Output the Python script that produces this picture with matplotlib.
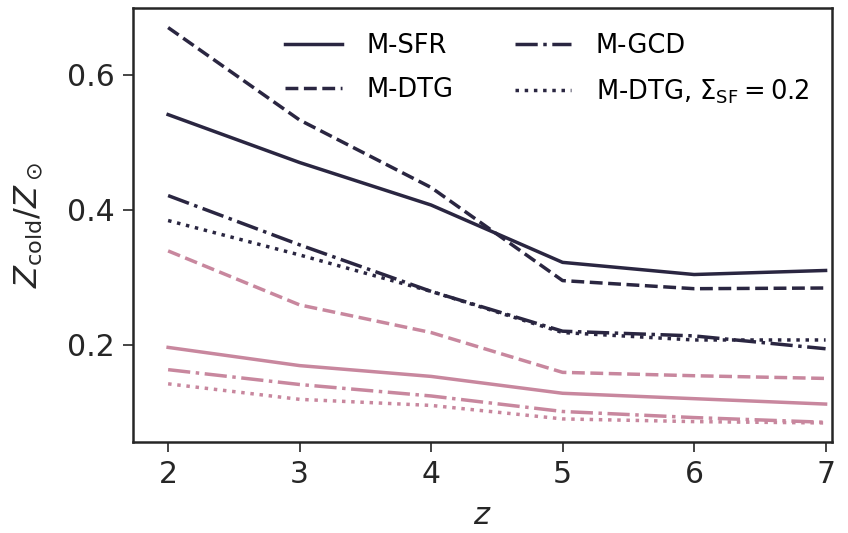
import numpy as np
import matplotlib
matplotlib.use('Agg')
import matplotlib.pyplot as plt

# redshift grid
z = [2, 3, 4, 5, 6, 7]

# dark series
dark_sfr = [0.541, 0.470, 0.407, 0.322, 0.304, 0.310]
dark_dtg = [0.670, 0.533, 0.433, 0.295, 0.283, 0.284]
dark_gcd = [0.421, 0.348, 0.279, 0.220, 0.213, 0.194]
dark_dtg_sf = [0.384, 0.333, 0.279, 0.218, 0.207, 0.207]

# pink series
pink_sfr = [0.196, 0.169, 0.153, 0.128, 0.120, 0.112]
pink_dtg = [0.339, 0.259, 0.218, 0.159, 0.154, 0.150]
pink_gcd = [0.163, 0.141, 0.124, 0.101, 0.092, 0.085]
pink_dtg_sf = [0.142, 0.119, 0.110, 0.090, 0.086, 0.084]

labels = ['M-SFR', 'M-DTG', 'M-GCD', r'M-DTG, $\Sigma_{\rm SF} = 0.2$']
styles = ['-', '--', '-.', ':']

dark = '#2a2641'
pink = '#c8879e'
txt = '#262626'

fig = plt.figure(figsize=(8.48, 5.33), dpi=100)
ax = fig.add_axes([0.157, 0.171, 0.824, 0.814])

for ys, ls, lab in zip([dark_sfr, dark_dtg, dark_gcd, dark_dtg_sf], styles, labels):
    ax.plot(z, ys, ls=ls, color=dark, lw=2.5, label=lab)
for ys, ls in zip([pink_sfr, pink_dtg, pink_gcd, pink_dtg_sf], styles):
    ax.plot(z, ys, ls=ls, color=pink, lw=2.5)

ax.set_xlim(1.734, 7.048)
ax.set_ylim(0.056, 0.699)
ax.set_xticks(z)
ax.set_yticks([0.2, 0.4, 0.6])
ax.tick_params(labelsize=21.5, length=7, width=1.2, colors=txt, pad=6)
for s in ax.spines.values():
    s.set_linewidth(1.8)
    s.set_color(txt)

ax.set_xlabel(r'$z$', fontsize=22, color=txt, labelpad=9)
ax.set_ylabel(r'$Z_{\rm cold}/Z_\odot$', fontsize=23, color=txt, labelpad=16)

ax.legend(ncol=2, frameon=False, fontsize=18.5, loc='upper right',
          handlelength=2.2, handletextpad=0.95, columnspacing=2.4,
          labelspacing=0.7, bbox_to_anchor=(1.0, 0.995))

fig.savefig('out.png', dpi=100)
